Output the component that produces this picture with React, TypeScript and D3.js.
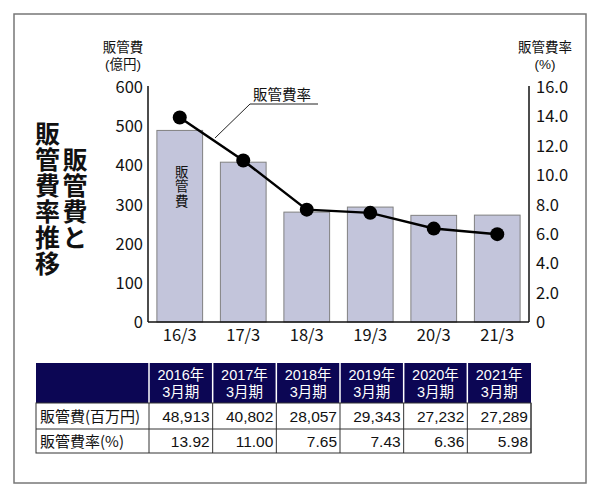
import React from "react";
import * as d3 from "d3";

const categories = ["16/3", "17/3", "18/3", "19/3", "20/3", "21/3"];
const sgaMillionYen = [48913, 40802, 28057, 29343, 27232, 27289];
const sgaRatio = [13.92, 11.0, 7.65, 7.43, 6.36, 5.98];
const tableYears = ["2016年", "2017年", "2018年", "2019年", "2020年", "2021年"];
const leftTicks = [0, 100, 200, 300, 400, 500, 600];
const rightTicks = [0, 2, 4, 6, 8, 10, 12, 14, 16];

const FONT = "'Noto Sans CJK JP', 'Noto Sans', sans-serif";
const NUMFONT = "'Liberation Sans', 'Noto Sans CJK JP', sans-serif";

export default function App() {
  const W = 600, H = 498;
  const plotL = 148, plotR = 529, plotT = 87, plotB = 322;
  const x = d3.scaleBand<string>().domain(categories).range([plotL, plotR]).paddingInner(0.28).paddingOuter(0.14);
  const yL = d3.scaleLinear().domain([0, 600]).range([plotB, plotT]);
  const yR = d3.scaleLinear().domain([0, 16]).range([plotB, plotT]);
  const oku = sgaMillionYen.map((v) => v / 100);
  const cx = (c: string) => (x(c) as number) + x.bandwidth() / 2;
  const line = d3.line<number>().x((_, i) => cx(categories[i])).y((d) => yR(d));
  const fmt = d3.format(",");

  // table
  const tL = 36, tC1 = 149, tR = 531;
  const tTop = 363, tH1 = 403, tH2 = 429, tH3 = 453;
  const colW = (tR - tC1) / categories.length;
  const headerColor = "#0c0654";
  const vert = { writingMode: "vertical-rl" as const };

  return (
    <svg width={W} height={H} style={{ position: "fixed", left: 0, top: 0, background: "#fff" }} fontFamily={FONT}>
      <rect x={0} y={0} width={W} height={H} fill="#fff" />
      <rect x={14} y={14} width={572} height={469} fill="none" stroke="#777" strokeWidth={1.5} />

      {/* title, vertical */}
      <text x={47.5} y={121} fontSize={25} fontWeight="bold" letterSpacing={1} fill="#111" style={vert}>販管費率推移</text>
      <text x={75} y={147} fontSize={25} fontWeight="bold" letterSpacing={1} fill="#111" style={vert}>販管費と</text>

      {/* axis titles */}
      <text x={123} y={52} fontSize={13.5} textAnchor="middle" fill="#111" fontFamily={NUMFONT}>販管費</text>
      <text x={123} y={69} fontSize={13.5} textAnchor="middle" fill="#111" fontFamily={NUMFONT}>(億円)</text>
      <text x={545} y={52} fontSize={13.5} textAnchor="middle" fill="#111" fontFamily={NUMFONT}>販管費率</text>
      <text x={545} y={69} fontSize={13.5} textAnchor="middle" fill="#111" fontFamily={NUMFONT}>(%)</text>

      {/* bars */}
      {oku.map((v, i) => (
        <rect key={i} x={x(categories[i])} y={yL(v)} width={x.bandwidth()} height={plotB - yL(v)} fill="#c3c5db" stroke="#808080" strokeWidth={1} />
      ))}
      <text x={cx(categories[0]) + 2} y={165} fontSize={13.5} letterSpacing={1} fill="#111" style={vert}>販管費</text>

      {/* axes */}
      <line x1={plotL} x2={plotL} y1={plotT - 1} y2={plotB} stroke="#111" strokeWidth={1.5} />
      <line x1={plotR} x2={plotR} y1={plotT - 1} y2={plotB} stroke="#111" strokeWidth={1.5} />
      <line x1={plotL} x2={plotR} y1={plotB} y2={plotB} stroke="#111" strokeWidth={1.5} />
      {leftTicks.map((t) => (
        <text key={"l" + t} x={143} y={yL(t) + 6} fontSize={16.5} textAnchor="end" fill="#111">{t}</text>
      ))}
      {rightTicks.map((t) => (
        <text key={"r" + t} x={536} y={yR(t) + 6} fontSize={16.5} textAnchor="start" fill="#111">{t === 0 ? "0" : t.toFixed(1)}</text>
      ))}
      {categories.map((c) => (
        <text key={c} x={cx(c)} y={341} fontSize={16.5} textAnchor="middle" fill="#111">{c}</text>
      ))}

      {/* ratio line */}
      <path d={line(sgaRatio) || ""} fill="none" stroke="#000" strokeWidth={2.5} />
      {sgaRatio.map((v, i) => (
        <circle key={i} cx={cx(categories[i])} cy={yR(v)} r={7} fill="#000" />
      ))}

      {/* annotation */}
      <text x={253} y={100} fontSize={14.5} fill="#111">販管費率</text>
      <polyline points="215,138 250,104 318,104" fill="none" stroke="#222" strokeWidth={1} />

      {/* table */}
      <rect x={tL} y={tTop} width={tR - tL} height={tH1 - tTop} fill={headerColor} />
      {categories.map((_, i) => (
        <line key={"hs" + i} x1={tC1 + i * colW} x2={tC1 + i * colW} y1={tTop} y2={tH1} stroke="#fff" strokeWidth={1.5} />
      ))}
      {tableYears.map((y, i) => (
        <text key={"hy" + i} x={tC1 + (i + 0.5) * colW} y={tTop + 17} fontSize={14.5} textAnchor="middle" fill="#fff" fontFamily={NUMFONT}>
          <tspan x={tC1 + (i + 0.5) * colW} dy={0}>{y}</tspan>
          <tspan x={tC1 + (i + 0.5) * colW} dy={17}>3月期</tspan>
        </text>
      ))}
      <rect x={tL} y={tH1} width={tR - tL} height={tH3 - tH1} fill="#fff" stroke="#333" strokeWidth={1} />
      <line x1={tL} x2={tR} y1={tH2} y2={tH2} stroke="#333" strokeWidth={1} />
      {d3.range(categories.length + 1).map((i) => (
        <line key={"bs" + i} x1={tC1 + i * colW} x2={tC1 + i * colW} y1={tH1} y2={tH3} stroke="#333" strokeWidth={1} />
      ))}
      <text x={40} y={tH1 + 19} fontSize={15} fill="#111">販管費(百万円)</text>
      <text x={40} y={tH2 + 18} fontSize={15} fill="#111">販管費率(%)</text>
      {sgaMillionYen.map((v, i) => (
        <text key={"v" + i} x={tC1 + (i + 1) * colW - 3} y={tH1 + 19} fontSize={15.5} textAnchor="end" fill="#111" fontFamily={NUMFONT}>{fmt(v)}</text>
      ))}
      {sgaRatio.map((v, i) => (
        <text key={"p" + i} x={tC1 + (i + 1) * colW - 3} y={tH2 + 18} fontSize={15.5} textAnchor="end" fill="#111" fontFamily={NUMFONT}>{v.toFixed(2)}</text>
      ))}
    </svg>
  );
}
